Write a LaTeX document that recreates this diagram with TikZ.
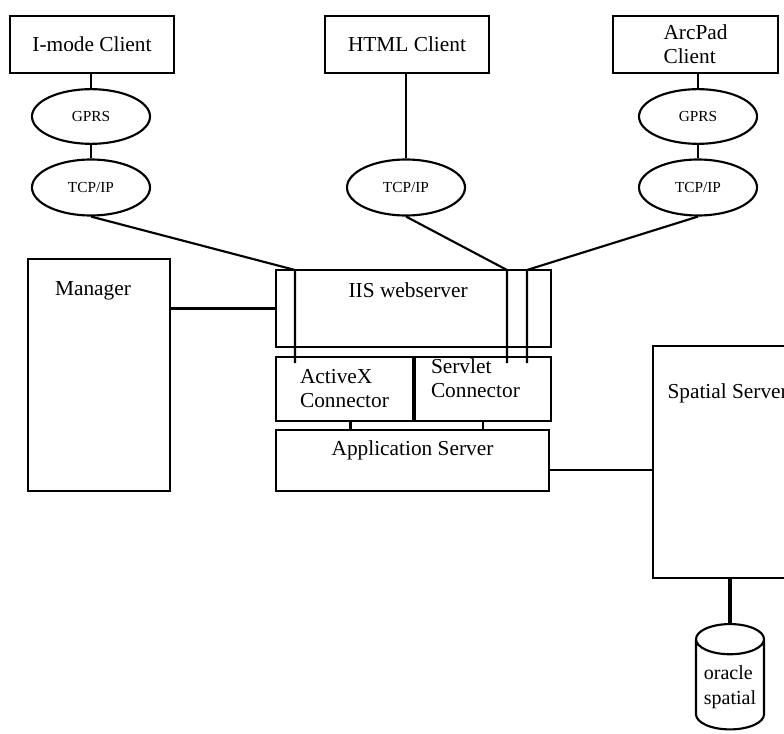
\documentclass[tikz,border=0pt]{standalone}
\usepackage{fontspec}
\setmainfont{Liberation Serif}
\usetikzlibrary{shapes.geometric}

\begin{document}
\begin{tikzpicture}[
  x=0.75pt, y=-0.75pt,
  line width=1.6pt,
  box/.style={draw, rectangle, inner sep=2pt, font=\fontsize{16}{18}\selectfont},
  cloud/.style={draw, ellipse, inner sep=1pt, minimum width=88.5pt, minimum height=42pt,
                font=\fontsize{11.5}{13}\selectfont},
  inlab/.style={font=\fontsize{16}{18.5}\selectfont, inner sep=0pt, align=left},
  link/.style={draw=black, line width=1.6pt},
  thick link/.style={draw=black, line width=2.8pt}
]
\useasboundingbox (0,0) rectangle (784,734);

% ---------------- clients ----------------
\node[box, minimum width=123pt, minimum height=43pt] (imode) at (92, 44.5) {I-mode Client};
\node[box, minimum width=123pt, minimum height=43pt] (html) at (407, 44.5) {HTML Client};
\node[box, minimum width=124pt, minimum height=43pt, align=left] (arcpad) at (695.5, 44.5)
  {ArcPad\\Client};

% ---------------- networks ----------------
\node[cloud, minimum height=41pt] (gprsL) at (91, 116.5) {GPRS};
\node[cloud] (tcpL) at (91, 187.5) {TCP/IP};
\node[cloud] (tcpM) at (406, 187.5) {TCP/IP};
\node[cloud, minimum height=41pt] (gprsR) at (698, 116.5) {GPRS};
\node[cloud] (tcpR) at (698, 187.5) {TCP/IP};

% ---------------- server side ----------------
\node[box, minimum width=107pt, minimum height=174pt,
      label={[inlab, anchor=center, xshift=-4.5pt, yshift=-25pt]north:Manager}] (manager) at (99, 375) {};
\node[box, minimum width=206pt, minimum height=58pt,
      label={[inlab, anchor=center, xshift=-4pt, yshift=-16pt]north:IIS webserver}] (iis) at (413.5, 308.5) {};
\node[box, minimum width=103pt, minimum height=48pt, align=left] (activex) at (344.5, 389)
  {ActiveX\\Connector};
\node[box, minimum width=102pt, minimum height=48pt,
      label={[inlab, anchor=north west, xshift=12pt, yshift=-1pt]north west:Servlet\\Connector}] (servlet) at (483, 389) {};
\node[box, minimum width=205pt, minimum height=46pt,
      label={[inlab, anchor=center, yshift=-16.5pt]north:Application Server}] (app) at (412.5, 460.5) {};
\node[box, minimum width=118pt, minimum height=174pt,
      label={[inlab, anchor=north west, xshift=11pt, yshift=-28pt]north west:Spatial Server}] (spatial) at (731.5, 462) {};
\node[draw, cylinder, shape border rotate=90, aspect=0.55, minimum width=51pt, minimum height=79pt,
      inner sep=1pt, align=left, anchor=north, font=\fontsize{15}{19}\selectfont] (oracle) at (730, 623)
  {oracle\\spatial};

% ---------------- connectors ----------------
\coordinate (inA) at (295, 270);
\coordinate (inS1) at (507, 270);
\coordinate (inS2) at (527, 270);
\coordinate (endA) at (295, 363);
\coordinate (endS1) at (507, 363);
\coordinate (endS2) at (527, 363);

\draw[link] (gprsL.north |- imode.south) -- (gprsL.north);
\draw[link] (gprsL.south) -- (tcpL.north);
\draw[link] (tcpL.south) -- (inA) -- (endA);
\draw[link] (tcpM.north |- html.south) -- (tcpM.north);
\draw[link] (tcpM.south) -- (inS1) -- (endS1);
\draw[link] (gprsR.north |- arcpad.south) -- (gprsR.north);
\draw[link] (gprsR.south) -- (tcpR.north);
\draw[link] (tcpR.south) -- (inS2) -- (endS2);
\draw[link] (manager.east |- iis.west) -- (iis.west);
\draw[link] ([xshift=4.5pt]activex.south) -- ([xshift=4.5pt]app.north -| activex.south);
\draw[link] (servlet.south) -- (app.north -| servlet.south);
\draw[link] ([yshift=-7pt]app.east) -- ([yshift=-7pt]app.east -| spatial.west);
\draw[thick link] (spatial.south -| oracle.north) -- (oracle.north);

\end{tikzpicture}
\end{document}
